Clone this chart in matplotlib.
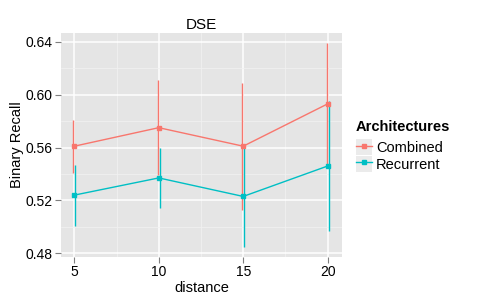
import numpy as np
import matplotlib
matplotlib.use("Agg")
import matplotlib.pyplot as plt
from matplotlib.ticker import MultipleLocator
from matplotlib.patches import Rectangle
from matplotlib.legend_handler import HandlerTuple

plt.rcParams['font.family'] = ['Liberation Sans', 'DejaVu Sans']

distance = [5, 10, 15, 20]
combined = [0.561, 0.575, 0.561, 0.593]
combined_err = [0.020, 0.036, 0.048, 0.046]
recurrent = [0.524, 0.537, 0.523, 0.546]
recurrent_err = [0.023, 0.023, 0.038, 0.049]

red = "#F8766D"
cyan = "#00BFC4"

fig = plt.figure(figsize=(4.8, 3.0), dpi=100)
ax = fig.add_axes([61 / 480, 1 - 257 / 300, 281 / 480, 224 / 300])
ax.set_facecolor("#E5E5E5")

x = np.array(distance)
ax.errorbar(x - 0.06, combined, yerr=combined_err, fmt="none", ecolor=red, elinewidth=1, capsize=0)
ax.errorbar(x + 0.06, recurrent, yerr=recurrent_err, fmt="none", ecolor=cyan, elinewidth=1, capsize=0)
l1, = ax.plot(x, combined, color=red, lw=1, marker="s", ms=3.2)
l2, = ax.plot(x, recurrent, color=cyan, lw=1, marker="s", ms=3.2)

ax.set_xlim(4.21, 20.85)
ax.set_ylim(0.4772, 0.6466)
ax.set_xticks(distance)
ax.xaxis.set_minor_locator(MultipleLocator(2.5))
ax.set_yticks([0.48, 0.52, 0.56, 0.60, 0.64])
ax.set_yticklabels(["0.48", "0.52", "0.56", "0.60", "0.64"])
ax.yaxis.set_minor_locator(MultipleLocator(0.02))
ax.grid(which="major", color="white", lw=1.1)
ax.grid(which="minor", color="#F2F2F2", lw=0.5)
ax.set_axisbelow(True)
for s in ax.spines.values():
    s.set_visible(False)
ax.tick_params(which="major", length=4, color="#7F7F7F", labelsize=10, labelcolor="black", pad=2)
ax.tick_params(which="minor", length=0)

ax.set_title("DSE", fontsize=11, pad=3)
ax.set_xlabel("distance", fontsize=10.5, labelpad=1)
ax.set_ylabel("Binary Recall", fontsize=10.5, labelpad=1)

bg1 = Rectangle((0, 0), 1, 1, facecolor="#EBEBEB", edgecolor="none")
bg2 = Rectangle((0, 0), 1, 1, facecolor="#EBEBEB", edgecolor="none")
leg = fig.legend([(bg1, l1), (bg2, l2)], ["Combined", "Recurrent"],
                 handler_map={tuple: HandlerTuple(ndivide=1, pad=0)},
                 loc="upper left", bbox_to_anchor=(344 / 480, 1 - 108 / 300), frameon=False,
                 title="Architectures", fontsize=10.5, title_fontsize=10.5,
                 handlelength=1.1, handleheight=1.3, handletextpad=0.3, labelspacing=0.05,
                 borderpad=0.3, alignment="left")
leg.get_title().set_fontweight("bold")
leg._legend_box.sep = 4

fig.savefig("out.png", dpi=100)
